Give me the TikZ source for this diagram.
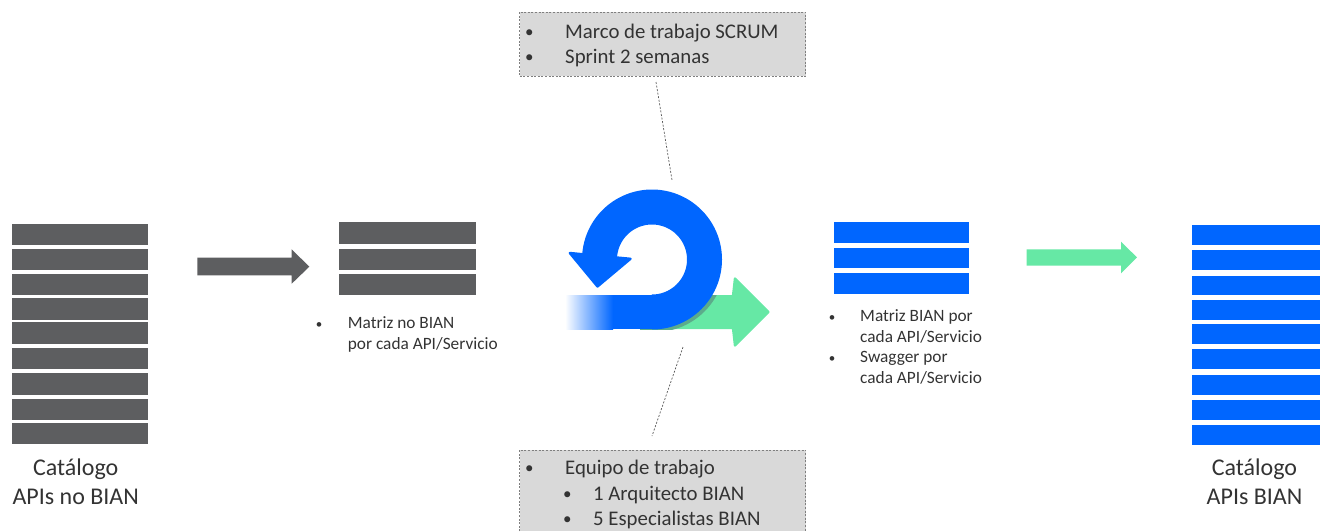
\documentclass[tikz,border=0pt]{standalone}
\usepackage{fontspec}
\setmainfont{Carlito}
\definecolor{barGrey}{HTML}{5D5E60}
\definecolor{barBlue}{HTML}{0066FF}
\definecolor{arrowGreen}{HTML}{66E8A5}
\definecolor{shadowGreen}{HTML}{5CAB8B}
\definecolor{boxGrey}{HTML}{D9D9D9}
\definecolor{lineGrey}{HTML}{7F7F7F}
\definecolor{textGrey}{HTML}{333333}
\tikzset{
  x=1pt,y=-1pt,
  txt/.style={anchor=base west,inner sep=0pt,text=textGrey,font=\fontsize{#1}{#1}\selectfont},
  ctr/.style={anchor=base,inner sep=0pt,text=textGrey,font=\fontsize{24}{24}\selectfont},
  note/.style={fill=boxGrey,inner sep=0pt,anchor=north west,minimum width=286pt},
  dashline/.style={lineGrey,line width=0.8pt,dash pattern=on 2pt off 1.6pt},
  leader/.style={black!65,line width=0.7pt,dash pattern=on 2pt off 1.6pt},
  greyBar/.style={fill=barGrey},
  blueBar/.style={fill=barBlue}
}
\begin{document}
\begin{tikzpicture}
\useasboundingbox (0,0) rectangle (1320,531);
% left stack
\foreach \a/\b in {223.5/245.3,249/270.4,274.3/294.5,298.4/320.3,322.4/344.3,347.7/369.3,373.3/394.7,398.7/420,422.7/444.3}
  \fill[greyBar] (11.7,\a) rectangle (147.7,\b);
% grey arrow
\fill[barGrey] (197.3,257.7) -- (291.7,257.7) -- (291.7,249.3) -- (309.3,266.7) -- (291.7,283.7) -- (291.7,275.3) -- (197.3,275.3) -- cycle;
% middle-left stack
\foreach \a/\b in {222.3/244.3,249.3/270.3,274.3/294.5}
  \fill[greyBar] (339.3,\a) rectangle (475.7,\b);
% middle-right stack
\foreach \a/\b in {222.3/243,247.7/268.3,273/293.7}
  \fill[blueBar] (833.7,\a) rectangle (968.7,\b);
% green arrow
\fill[arrowGreen] (1026.7,249.3) -- (1121,249.3) -- (1121,241.7) -- (1137,257.4) -- (1121,273.3) -- (1121,265.7) -- (1026.7,265.7) -- cycle;
% right stack
\foreach \a/\b in {225/245.3,250.3/270.3,275.7/294.8,300/320,324/344,349.3/369.3,374.7/394.7,400/420,425.3/445.3}
  \fill[blueBar] (1191.7,\a) rectangle (1320,\b);
% scrum symbol: green arrow
\draw[arrowGreen,fill=arrowGreen,line width=2.4pt,line join=round] (652,296.2) -- (733,296.2) -- (735,278.5) -- (768.5,312) -- (735,345.5) -- (733,327.8) -- (652,327.8) -- cycle;
\begin{scope}
  \clip (640,295) rectangle (733,329);
  \fill[shadowGreen] (655,262) circle[radius=70];
\end{scope}
% scrum symbol: loop
\shade[left color=white,right color=barBlue,shading angle=90,draw=none] (565,295) rectangle (613,329);
\fill[barBlue] (612.5,295) rectangle (652.5,329);
\draw[barBlue,line width=35pt,line cap=butt,line join=round] plot[domain=90:-178,samples=120] ({652+52.5*cos(\x)},{259.5+52.5*sin(\x)});
\draw[barBlue,fill=barBlue,line width=2.4pt,line join=round] (569.8,253) -- (630.5,258.8) -- (597.5,286.5) -- cycle;
% notes
\node[note,minimum height=64pt] (top) at (519.3,12) {};
\draw[dashline] (top.north west) rectangle (top.south east);
\node[note,minimum height=81pt] (bottom) at (519.3,450) {};
\draw[dashline] (bottom.south west) -- (bottom.north west) -- (bottom.north east) -- (bottom.south east);
% leaders
\coordinate (topA) at (656,82);
\coordinate (topB) at (672,180);
\coordinate (botA) at (683,347);
\coordinate (botB) at (652,436);
\draw[leader] (topA) -- (topB);
\draw[leader] (botA) -- (botB);
% note text
\node[txt=17] (b1) at (524.8,37) {•};
\node[txt=20.8] (t1) at (565,38) {Marco de trabajo SCRUM};
\node[txt=17] (b2) at (524.8,62) {•};
\node[txt=20.8] (t2) at (565,63) {Sprint 2 semanas};
\node[txt=17] (b3) at (524.8,473) {•};
\node[txt=20.8] (t3) at (565,474) {Equipo de trabajo};
\node[txt=17] (b4) at (562.8,499) {•};
\node[txt=20.8] (t4) at (593,500) {1 Arquitecto BIAN};
\node[txt=17] (b5) at (562.8,524) {•};
\node[txt=20.8] (t5) at (593,525) {5 Especialistas BIAN};
% stack text
\node[txt=13] (b6) at (315.7,328) {•};
\node[txt=17.3] (t6) at (347.7,328) {Matriz no BIAN};
\node[txt=17.3] (t7) at (347.7,349.5) {por cada API/Servicio};
\node[txt=13] (b8) at (828.7,321) {•};
\node[txt=17.3] (t8) at (860,321) {Matriz BIAN por};
\node[txt=17.3] (t9) at (860,342) {cada API/Servicio};
\node[txt=13] (b10) at (828.7,362) {•};
\node[txt=17.3] (t10) at (860,362) {Swagger por};
\node[txt=17.3] (t11) at (860,383.5) {cada API/Servicio};
\node[ctr] (c1) at (75.7,475) {Catálogo};
\node[ctr] (c2) at (75.7,504.5) {APIs no BIAN};
\node[ctr] (c3) at (1254.5,475) {Catálogo};
\node[ctr] (c4) at (1254.5,504.5) {APIs BIAN};
\end{tikzpicture}
\end{document}
